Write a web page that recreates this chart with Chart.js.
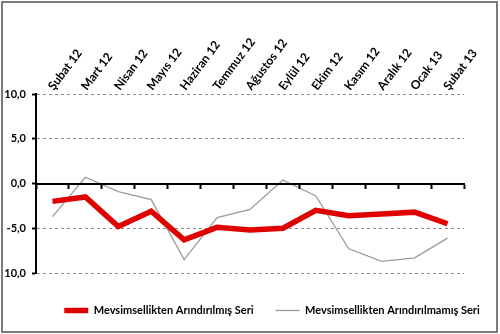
<!DOCTYPE html>
<html>
<head>
<meta charset="utf-8">
<script src="https://cdn.jsdelivr.net/npm/chart.js@4.4.1/dist/chart.umd.min.js"></script>
<style>
    html, body { margin: 0; padding: 0; background: #fff; }
    #wrap { position: relative; width: 500px; height: 334px; }
    #frame {
        position: absolute; left: 1px; top: 1px; width: 497px; height: 332px;
        box-sizing: border-box; border: 2px solid #7a7a7a; pointer-events: none;
    }
</style>
</head>
<body>
<div id="wrap">
    <canvas id="chart" width="500" height="334"></canvas>
    <div id="frame"></div>
</div>
<script>
// months on the axis
const months = ['Şubat 12', 'Mart 12', 'Nisan 12', 'Mayıs 12', 'Haziran 12', 'Temmuz 12', 'Ağustos 12',
    'Eylül 12', 'Ekim 12', 'Kasım 12', 'Aralık 12', 'Ocak 13', 'Şubat 13'];

// seasonally adjusted / not adjusted series
const adjusted = [-2.0, -1.5, -4.8, -3.1, -6.3, -4.9, -5.2, -5.0, -3.0, -3.6, -3.4, -3.2, -4.5];
const unadjusted = [-3.7, 0.7, -0.9, -1.8, -8.5, -3.8, -2.9, 0.4, -1.4, -7.3, -8.7, -8.3, -6.1];

const seriesNames = ['Mevsimsellikten Arındırılmış Seri', 'Mevsimsellikten Arındırılmamış Seri'];
const yTicks = [-10, -5, 0, 5, 10];

const FONT = 'Lato, "Liberation Sans", sans-serif';

// moves the legend a bit, the original one is not centred
const legendShift = {
    id: 'legendShift',
    afterLayout(chart) {
        const lg = chart.legend;
        if (!lg) return;
        lg.left += 20; lg.right += 20;
        lg.top += 10; lg.bottom += 10;
    }
};

new Chart(document.getElementById('chart'), {
    type: 'line',
    data: {
        labels: months,
        datasets: [{
            label: seriesNames[0],
            data: adjusted,
            borderColor: '#e10000',
            backgroundColor: '#e10000',
            borderWidth: 5.5,
            pointRadius: 0,
            tension: 0,
            order: 1
        }, {
            label: seriesNames[1],
            data: unadjusted,
            borderColor: '#9b9b9b',
            backgroundColor: '#9b9b9b',
            borderWidth: 1.3,
            pointRadius: 0,
            tension: 0,
            order: 2
        }]
    },
    options: {
        responsive: false,
        animation: false,
        layout: { padding: { top: 8, right: 0, left: 4, bottom: 18 } },
        plugins: {
            tooltip: { enabled: false },
            legend: {
                position: 'bottom',
                labels: {
                    usePointStyle: true,
                    pointStyle: 'line',
                    pointStyleWidth: 24,
                    padding: 22,
                    color: '#000',
                    font: { family: FONT, size: 11, weight: 'bold' }
                }
            }
        },
        scales: {
            x: {
                type: 'category',
                position: 'top',
                offset: true,
                grid: { display: false, drawTicks: false },
                border: { display: false },
                afterFit: (s) => { s.height = 86; },
                ticks: {
                    autoSkip: false,
                    minRotation: 53,
                    maxRotation: 53,
                    padding: 1,
                    labelOffset: 10,
                    color: '#000',
                    font: { family: FONT, size: 12, weight: 'bold' }
                }
            },
            zero: {
                type: 'category',
                axis: 'x',
                position: { y: 0 },
                offset: true,
                grid: {
                    offset: true,
                    drawOnChartArea: false,
                    drawTicks: true,
                    tickLength: 4,
                    tickColor: '#000',
                    tickWidth: 2,
                    z: 1
                },
                border: { display: true, color: '#000', width: 2, z: 1 },
                ticks: { display: false }
            },
            y: {
                min: -10,
                max: 10,
                afterBuildTicks: (s) => { s.ticks = yTicks.map(v => ({ value: v })); },
                afterFit: (s) => { s.width = 32; },
                grid: {
                    color: '#8c8c8c',
                    lineWidth: 1,
                    drawTicks: true,
                    tickLength: 4,
                    tickColor: '#000',
                    tickWidth: 2,
                    tickBorderDash: []
                },
                border: { display: true, color: '#000', width: 2, dash: [3, 3] },
                ticks: {
                    padding: 6,
                    color: '#000',
                    font: { family: FONT, size: 11, weight: 'bold' },
                    callback: (v) => v.toFixed(1).replace('.', ',')
                }
            },
            // empty right side, keeps the plot off the frame
            right: {
                type: 'linear',
                position: 'right',
                display: true,
                grid: { display: false, drawTicks: false },
                border: { display: false },
                ticks: { display: false },
                afterFit: (s) => { s.width = 36; }
            }
        }
    },
    plugins: [legendShift]
});
</script>
</body>
</html>
